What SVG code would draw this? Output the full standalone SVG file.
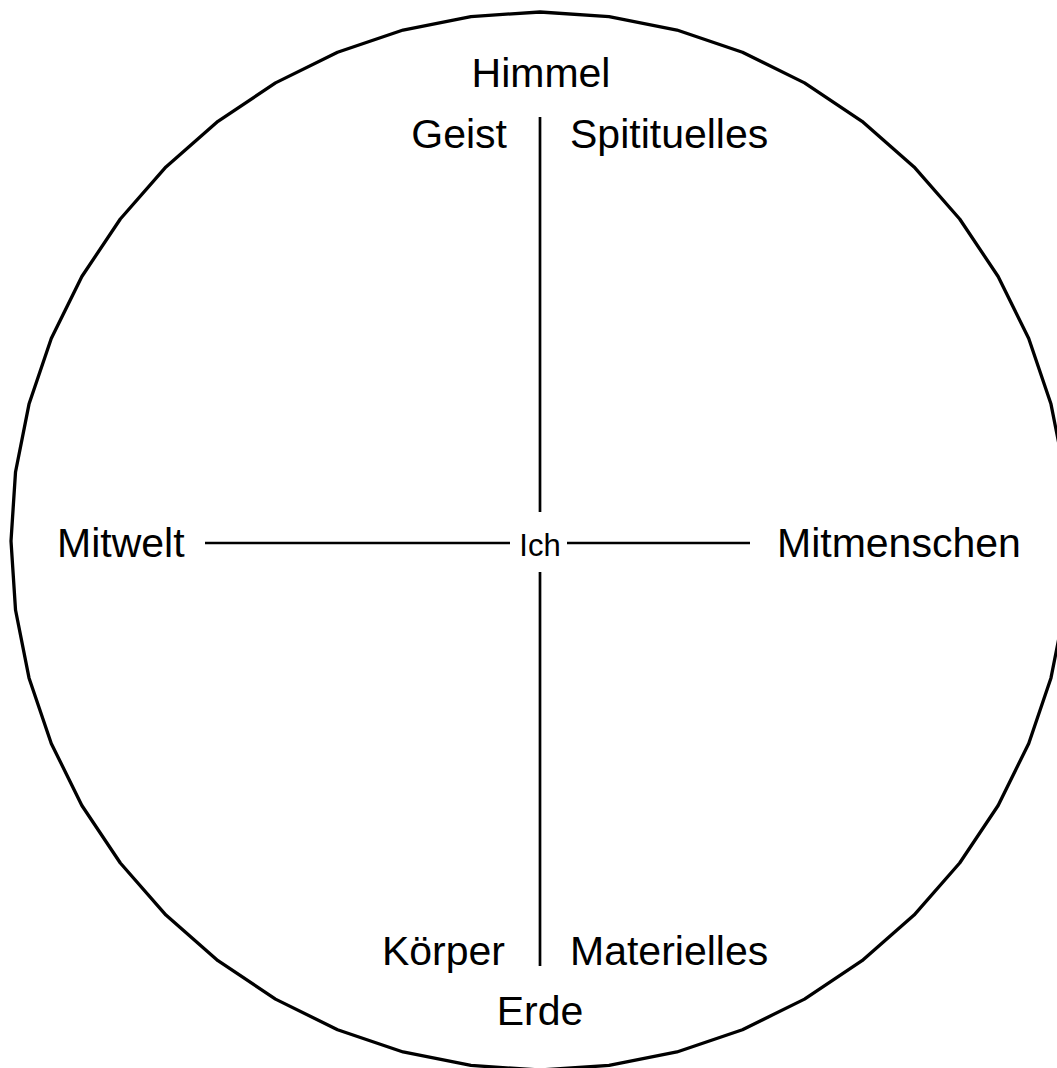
<svg xmlns="http://www.w3.org/2000/svg" width="1057" height="1068" viewBox="0 0 1057 1068">
<style>
.lbl{font-family:"Liberation Sans",Arial,sans-serif;font-size:41px;fill:#000}
.ich{font-family:"Liberation Sans",Arial,sans-serif;font-size:31px;fill:#000}
.ln{stroke:#000;stroke-width:2.7;fill:none}
</style>
<rect width="1057" height="1068" fill="#fff"/>
<g id="circle">
<polygon fill="none" stroke="#000" stroke-width="3.3" stroke-linejoin="round" points="540,12 609.05,16.53 676.92,30.02 742.44,52.27 804.5,82.87 862.03,121.32 914.06,166.94 959.68,218.97 998.13,276.5 1028.73,338.56 1050.98,404.08 1064.47,471.95 1069,541 1064.47,610.05 1050.98,677.92 1028.73,743.44 998.13,805.5 959.68,863.03 914.06,915.06 862.03,960.68 804.5,999.13 742.44,1029.73 676.92,1051.98 609.05,1065.47 540,1070 470.95,1065.47 403.08,1051.98 337.56,1029.73 275.5,999.13 217.97,960.68 165.94,915.06 120.32,863.03 81.87,805.5 51.27,743.44 29.02,677.92 15.53,610.05 11,541 15.53,471.95 29.02,404.08 51.27,338.56 81.87,276.5 120.32,218.97 165.94,166.94 217.97,121.32 275.5,82.87 337.56,52.27 403.08,30.02 470.95,16.53"/>
</g>
<g id="connectors">
<line class="ln" x1="540" y1="117" x2="540" y2="512"/>
<line class="ln" x1="540" y1="572" x2="540" y2="966"/>
<line class="ln" x1="205" y1="543" x2="510" y2="543"/>
<line class="ln" x1="567" y1="543" x2="750" y2="543"/>
</g>
<g id="ich"><text class="ich" x="540" y="556" text-anchor="middle">Ich</text></g>
<g id="himmel"><text class="lbl" x="541" y="87" text-anchor="middle">Himmel</text></g>
<g id="geist"><text class="lbl" x="507" y="148" text-anchor="end">Geist</text></g>
<g id="spitituelles"><text class="lbl" x="570" y="148">Spitituelles</text></g>
<g id="mitwelt"><text class="lbl" x="57" y="557">Mitwelt</text></g>
<g id="mitmenschen"><text class="lbl" x="777" y="557">Mitmenschen</text></g>
<g id="koerper"><text class="lbl" x="505" y="965" text-anchor="end">Körper</text></g>
<g id="materielles"><text class="lbl" x="570" y="965">Materielles</text></g>
<g id="erde"><text class="lbl" x="540" y="1025" text-anchor="middle">Erde</text></g>
</svg>
